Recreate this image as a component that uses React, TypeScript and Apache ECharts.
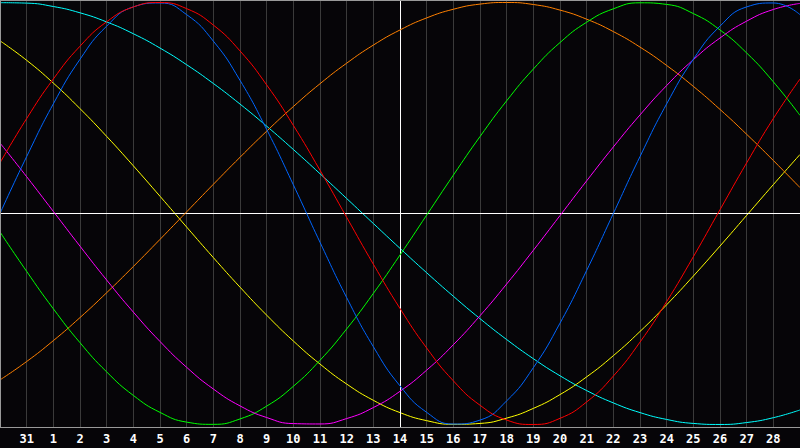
import React, { useEffect, useRef } from "react";
import * as echarts from "echarts";

// day labels under the grid lines (t = 0..30, the two edge ones are hidden)
const DAY_LABELS = ["30", "31", "1", "2", "3", "4", "5", "6", "7", "8", "9", "10", "11", "12", "13", "14",
  "15", "16", "17", "18", "19", "20", "21", "22", "23", "24", "25", "26", "27", "28", "1"];
const TODAY_T = 15;

// cycle values, one per day (t = 0..30)
const PHYSICAL = [0, 0.2698, 0.5196, 0.7308, 0.8879, 0.9791, 0.9977, 0.9423, 0.817, 0.6311, 0.3984, 0.1362,
  -0.1362, -0.3984, -0.6311, -0.817, -0.9423, -0.9977, -0.9791, -0.8879, -0.7308, -0.5196, -0.2698, 0,
  0.2698, 0.5196, 0.7308, 0.8879, 0.9791, 0.9977, 0.9423];
const EMOTIONAL = [0.24, 0.45, 0.6374, 0.7929, 0.9086, 0.9788, 0.9998, 0.9708, 0.893, 0.7705, 0.6094, 0.4176,
  0.205, -0.018, -0.24, -0.45, -0.6374, -0.7929, -0.9086, -0.9788, -0.9998, -0.9708, -0.893, -0.7705,
  -0.6094, -0.4176, -0.205, 0.018, 0.24, 0.45, 0.6374];
const INTELLECTUAL = [-0.0875, -0.2744, -0.4515, -0.6122, -0.7507, -0.8622, -0.9425, -0.9887, -0.9992, -0.9736,
  -0.9128, -0.819, -0.6956, -0.547, -0.3787, -0.1967, -0.0076, 0.1818, 0.3646, 0.5342, 0.6845, 0.8101,
  0.9065, 0.97, 0.9985, 0.9909, 0.9475, 0.8698, 0.7607, 0.6241, 0.465];
const INTUITIVE = [0.3341, 0.1744, 0.0099, -0.1548, -0.3153, -0.4672, -0.6064, -0.729, -0.8317, -0.9117, -0.9669,
  -0.9957, -0.9974, -0.9718, -0.9197, -0.8426, -0.7424, -0.622, -0.4846, -0.3341, -0.1744, -0.0099, 0.1548,
  0.3153, 0.4672, 0.6064, 0.729, 0.8317, 0.9117, 0.9669, 0.9957];
const AESTHETIC = [0.8184, 0.726, 0.6181, 0.497, 0.3654, 0.226, 0.0817, -0.0643, -0.2089, -0.349, -0.4818,
  -0.6042, -0.7135, -0.8082, -0.8853, -0.9436, -0.9817, -0.999, -0.9949, -0.9697, -0.9237, -0.8581, -0.7742,
  -0.6738, -0.5591, -0.4324, -0.2965, -0.1543, -0.0088, 0.1369, 0.2797];
const AWARENESS = [-0.7886, -0.7015, -0.6025, -0.4932, -0.3754, -0.2512, -0.1227, 0.0079, 0.1383, 0.2664, 0.3899,
  0.5068, 0.615, 0.7123, 0.7981, 0.8698, 0.9269, 0.9679, 0.9924, 1.0, 0.9904, 0.9639, 0.9208, 0.8621, 0.7886,
  0.7015, 0.6025, 0.4932, 0.3754, 0.2512, 0.1227];
const SPIRITUAL = [0.9991, 0.997, 0.9809, 0.9511, 0.9078, 0.8519, 0.784, 0.705, 0.6162, 0.5187, 0.4139, 0.3034,
  0.1885, 0.0711, -0.0474, -0.1652, -0.2807, -0.3922, -0.4983, -0.5973, -0.688, -0.769, -0.8392, -0.8976,
  -0.9435, -0.976, -0.9949, -0.9998, -0.9907, -0.9677, -0.9311];

const CYCLES = [
  { name: "spiritual", data: SPIRITUAL, color: "#00ffff" },
  { name: "aesthetic", data: AESTHETIC, color: "#ffff00" },
  { name: "awareness", data: AWARENESS, color: "#ff8000" },
  { name: "intellectual", data: INTELLECTUAL, color: "#00ff00" },
  { name: "intuitive", data: INTUITIVE, color: "#ff00ff" },
  { name: "physical", data: PHYSICAL, color: "#0066ff" },
  { name: "emotional", data: EMOTIONAL, color: "#ff0000" },
];

const BG = "#060508";

export default function App() {
  const chartRef = useRef<HTMLDivElement>(null);

  useEffect(() => {
    document.body.style.margin = "0";
    document.body.style.background = BG;
    if (!chartRef.current) return;
    const chart = echarts.init(chartRef.current, undefined, { renderer: "svg" });

    const series: any[] = CYCLES.map((c, ci) => ({
      name: c.name,
      type: "line",
      smooth: true,
      showSymbol: false,
      symbol: "none",
      silent: true,
      data: c.data.map((v, i) => [i, v]),
      lineStyle: { color: c.color, width: 1 },
      z: 3 + ci,
      markLine: ci === 0 ? {
        silent: true,
        symbol: ["none", "none"],
        label: { show: false },
        lineStyle: { color: "#ffffff", width: 1, type: "solid" },
        data: [{ yAxis: 0 }, { xAxis: TODAY_T }],
      } : undefined,
    }));

    chart.setOption({
      backgroundColor: BG,
      animation: false,
      grid: { left: 0, right: 0, top: 0, bottom: 21 },
      xAxis: {
        type: "value",
        min: 0,
        max: 30,
        interval: 1,
        axisLine: { show: false },
        axisTick: { show: false },
        splitLine: { show: true, lineStyle: { color: "#3a3a3a", width: 1 } },
        axisLabel: {
          color: "#ffffff",
          fontFamily: "DejaVu Sans Mono",
          fontWeight: "bold",
          fontSize: 12,
          margin: 6,
          showMinLabel: false,
          showMaxLabel: false,
          formatter: (v: number) => DAY_LABELS[v] ?? "",
        },
      },
      yAxis: {
        type: "value",
        min: -1.0118,
        max: 1.0118,
        show: false,
        splitLine: { show: false },
      },
      graphic: [
        { type: "line", z: 10, shape: { x1: 0, y1: 0.5, x2: 800, y2: 0.5 }, style: { stroke: "#999999", lineWidth: 1 } },
        { type: "line", z: 10, shape: { x1: 0.5, y1: 0, x2: 0.5, y2: 428 }, style: { stroke: "#999999", lineWidth: 1 } },
        { type: "line", z: 10, shape: { x1: 0, y1: 427.5, x2: 800, y2: 427.5 }, style: { stroke: "#999999", lineWidth: 1 } },
      ],
      series,
    });

    return () => {
      chart.dispose();
    };
  }, []);

  return <div ref={chartRef} style={{ width: 800, height: 448, background: BG }} />;
}
